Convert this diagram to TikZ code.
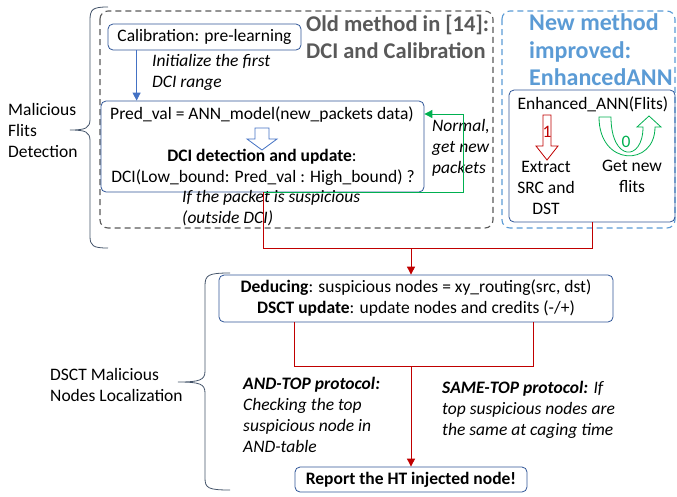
\documentclass[tikz,border=0pt]{standalone}
\usepackage{fontspec}
\setmainfont{Carlito}
\usetikzlibrary{arrows.meta}
\definecolor{oldgray}{HTML}{595959}
\definecolor{newblue}{HTML}{5B9BD5}
\definecolor{boxblue}{HTML}{2F5597}
\definecolor{arrblue}{HTML}{4472C4}
\definecolor{redline}{HTML}{C00000}
\definecolor{greenline}{HTML}{00B050}
\definecolor{bracecol}{HTML}{44546A}
\newcommand\basefont{\fontsize{17.5}{21}\selectfont}
\tikzset{
  box/.style={draw=boxblue,rounded corners=5pt,line width=0.8pt,inner sep=0pt},
  txt/.style={inner sep=0pt,align=left,anchor=west},
  note/.style={txt,font=\basefont\itshape},
  title/.style={txt,font=\fontsize{22.5}{27.5}\selectfont\bfseries},
  dashbox/.style={dash pattern=on 6pt off 4pt,line width=1.1pt,rounded corners=8pt},
  tip/.style={-{Triangle[length=8pt,width=8pt]}}
}
\begin{document}
\begin{tikzpicture}[x=1pt,y=-1pt,font=\basefont]
\useasboundingbox (0,0) rectangle (677,496);

% dashed frames
\draw[dashbox,oldgray] (100,11) rectangle (493,228);
\draw[dashbox,newblue] (502,11) rectangle (675,228);
\node[title,text=oldgray] (oldtitle) at (306,37) {Old method in [14]:\\DCI and Calibration};
\node[title,text=newblue,font=\fontsize{24}{27.5}\selectfont\bfseries] (newtitle) at (529,50)
  {New method\\improved:\\EnhancedANN};

% old method
\node[box,minimum width=193,minimum height=26] (calib) at (204.5,37) {Calibration: pre-learning};
\node[note] (init) at (152,72) {Initialize the first\\DCI range};
\node[box,minimum width=323,minimum height=91] (pred) at (262.5,146.5) {};
\node[inner sep=0pt] (model) at (262,115) {Pred\_val = ANN\_model(new\_packets data)};
\node[inner sep=0pt] (upd) at (262,157) {\textbf{DCI detection and update}:};
\node[inner sep=0pt] (dci) at (263,178) {DCI(Low\_bound: Pred\_val : High\_bound) ?};
\draw[arrblue,fill=white,line width=0.8pt] (255,128) -- (269,128) -- (269,139) -- (277,139)
  -- (262,150) -- (247,139) -- (255,139) -- cycle;
\node[note] (suspect) at (182,208) {If the packet is suspicious\\(outside DCI)};
\node[note] (normal) at (432,148) {Normal,\\get new\\packets};

\draw[arrblue,line width=0.9pt,tip] ([xshift=29pt]calib.south west)
  -- ([xshift=29pt]calib.south west |- pred.north);
\draw[greenline,line width=0.9pt,tip] ([xshift=163pt]pred.south west) -- ++(200,0)
  |- ([yshift=32.5pt]pred.east);

% new method
\node[box,minimum width=166,minimum height=132] (enh) at (592,156) {};
\node[inner sep=0pt] (enhtxt) at (593,104) {Enhanced\_ANN(Flits)};
\draw[redline,fill=white,line width=0.8pt] (543,115) -- (551,115) -- (551,146) -- (558,146)
  -- (547,160) -- (536,146) -- (543,146) -- cycle;
\node[inner sep=0pt,text=redline] (one) at (547,132) {1};
\draw[greenline,fill=white,line width=0.8pt] (599,117) -- (611,117)
  .. controls (611,162) and (643,162) .. (643,127) -- (637,127) -- (649,116) -- (661,127)
  -- (655,127) .. controls (655,167) and (599,167) .. cycle;
\node[inner sep=0pt,text=greenline] (zero) at (626,142) {0};
\node[inner sep=0pt,align=center] (extract) at (546,188) {Extract\\SRC and\\DST};
\node[inner sep=0pt,align=center] (getnew) at (632,176) {Get new\\flits};

% localization
\node[box,align=center,minimum width=394,minimum height=47] (deduce) at (416,298.5)
  {\textbf{Deducing}: suspicious nodes = xy\_routing(src, dst)\\
   \textbf{DSCT update}: update nodes and credits (-/+)};
\node[box,minimum width=232,minimum height=25,font=\basefont\bfseries]
  (report) at (411,479.5) {Report the HT injected node!};
\node[note] (andtop) at (243,415) {\textbf{AND-TOP protocol:}\\Checking the top\\suspicious node in\\AND-table};
\node[note] (sametop) at (442,410) {\textbf{SAME-TOP protocol:} If\\top suspicious nodes are\\the same at caging time};

\coordinate (merge) at (411,248);
\coordinate (join) at (411,366);
\draw[redline,line width=0.9pt] ([xshift=163pt]pred.south west) -- ++(0,56) -| (enh.south);
\draw[redline,line width=0.9pt,tip] (merge) -- (merge |- deduce.north);
\draw[redline,line width=0.9pt] ([xshift=76pt]deduce.south west) -- ++(0,44)
  -| ([xshift=315pt]deduce.south west);
\draw[redline,line width=0.9pt,tip] (join) -- (report.north);

% braces
\node[txt] (flits) at (8,130) {Malicious\\Flits\\Detection};
\node[txt] (dsct) at (50,385) {DSCT Malicious\\Nodes Localization};
\draw[bracecol,line width=0.8pt] (108,7) .. controls (93,7) and (90,9) .. (90,20) -- (90,119)
  .. controls (90,128) and (86,130) .. (70,130) .. controls (86,130) and (90,132) .. (90,141)
  -- (90,236) .. controls (90,246) and (93,248) .. (108,248);
\draw[bracecol,line width=0.8pt] (230,273) .. controls (208,273) and (205,275) .. (205,286) -- (205,371)
  .. controls (205,380) and (200,382) .. (178,382) .. controls (200,382) and (205,384) .. (205,393)
  -- (205,478) .. controls (205,488) and (208,490) .. (230,490);
\end{tikzpicture}
\end{document}
